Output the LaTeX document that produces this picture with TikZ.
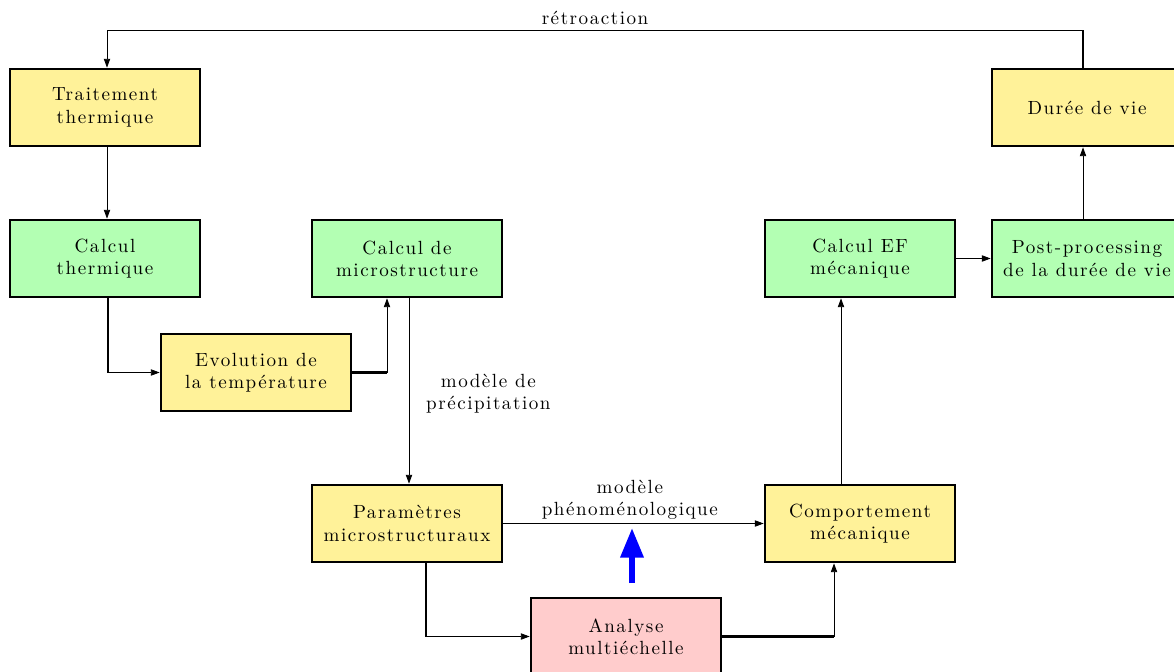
\documentclass[tikz,border=0pt]{standalone}
\usepackage{fontspec}
\setmainfont{lmroman10}[Extension=.otf, UprightFont=*-regular, LetterSpace=8]
\usetikzlibrary{arrows.meta,calc}
\definecolor{boxyellow}{RGB}{255,242,153}
\definecolor{boxgreen}{RGB}{179,255,179}
\definecolor{boxpink}{RGB}{255,204,204}
\begin{document}
\begin{tikzpicture}[x=0.54pt,y=-0.54pt,
  box/.style={draw, line width=1.4pt, minimum width=102.6pt, minimum height=41.6pt, inner sep=0pt, align=center, font=\fontsize{10.3}{12}\selectfont},
  ybox/.style={box, fill=boxyellow},
  gbox/.style={box, fill=boxgreen},
  pbox/.style={box, fill=boxpink},
  conn/.style={line width=0.5pt, -{Triangle[length=4.8pt,width=3.4pt]}},
  thk/.style={line width=1.2pt},
  lbl/.style={font=\fontsize{10.3}{12}\selectfont, align=center, inner sep=1pt},
  bigarrow/.style={line width=3.2pt, blue, -{Triangle[length=16pt,width=12pt]}}
]
\useasboundingbox (0,0) rectangle (1174,671);
\clip (0,0) rectangle (1174,671);

\node[ybox] (tt) at (105,107.5) {Traitement\\thermique};
\node[gbox] (ct) at (105,258.5) {Calcul\\thermique};
\node[gbox] (cm) at (407,258.5) {Calcul de\\microstructure};
\node[ybox] (ev) at (256,372.5) {Evolution de\\la température};
\node[ybox] (pm) at (407,523.5) {Paramètres\\microstructuraux};
\node[pbox] (am) at (626,636.5) {Analyse\\multiéchelle};
\node[ybox] (cmp) at (860,523.5) {Comportement\\mécanique};
\node[gbox] (ef) at (860,258.5) {Calcul EF\\mécanique};
\node[gbox] (pp) at (1087,258.5) {Post-processing\\de la durée de vie};
\node[ybox] (dv) at (1087,107.5) {Durée de vie};

% retroaction
\coordinate (rs) at ($(dv.north)+(-4,0)$);
\coordinate (re) at ($(tt.north)+(2,0)$);
\draw[line width=0.8pt] (rs) -- ++(0,-37) coordinate (rt) -- (rt -| re) coordinate (rl)
  node[midway, above, lbl, yshift=2pt] {rétroaction};
\draw[conn] (rl) -- (re);

% Traitement -> Calcul thermique
\draw[conn] ($(tt.south)+(2,0)$) -- ($(ct.north)+(2,0)$);

% Calcul thermique -> Evolution
\coordinate (c1) at ($(ct.south)+(3,0)$);
\draw[conn] (c1) |- (ev.west);
\draw[thk] (c1) -- (c1 |- ev.west);

% Evolution -> Calcul de microstructure
\coordinate (c2) at ($(cm.south)+(-20,0)$);
\draw[conn] (ev.east) -| (c2);
\draw[thk] (ev.east) -- (ev.east -| c2);

% Calcul de microstructure -> Parametres
\draw[conn] ($(cm.south)+(2,0)$) -- node[right, lbl, xshift=8pt, yshift=-1.3pt] {modèle de\\précipitation} ($(pm.north)+(2,0)$);

% Parametres -> Comportement
\draw[conn] (pm.east) -- node[above, lbl, xshift=-2pt, yshift=1pt] {modèle\\phénoménologique} (cmp.west);

% Parametres -> Analyse
\coordinate (c3) at ($(pm.south)+(19,0)$);
\draw[conn] (c3) |- (am.west);
\draw[thk] (c3) -- (c3 |- am.west);

% Analyse -> Comportement
\coordinate (c4) at ($(cmp.south)+(-26,0)$);
\draw[conn] (am.east) -| (c4);
\draw[thk] (am.east) -- (am.east -| c4);

% Comportement -> Calcul EF
\draw[conn] ($(cmp.north)+(-19,0)$) -- ($(ef.south)+(-19,0)$);

% Calcul EF -> Post-processing
\draw[conn] (ef.east) -- (pp.west);

% Post-processing -> Duree de vie
\draw[conn] ($(pp.north)+(-4,0)$) -- ($(dv.south)+(-4,0)$);

% blue arrow
\coordinate (bb) at (632,583);
\coordinate (bt) at (632,528);
\draw[bigarrow] (bb) -- (bt);
\end{tikzpicture}
\end{document}
